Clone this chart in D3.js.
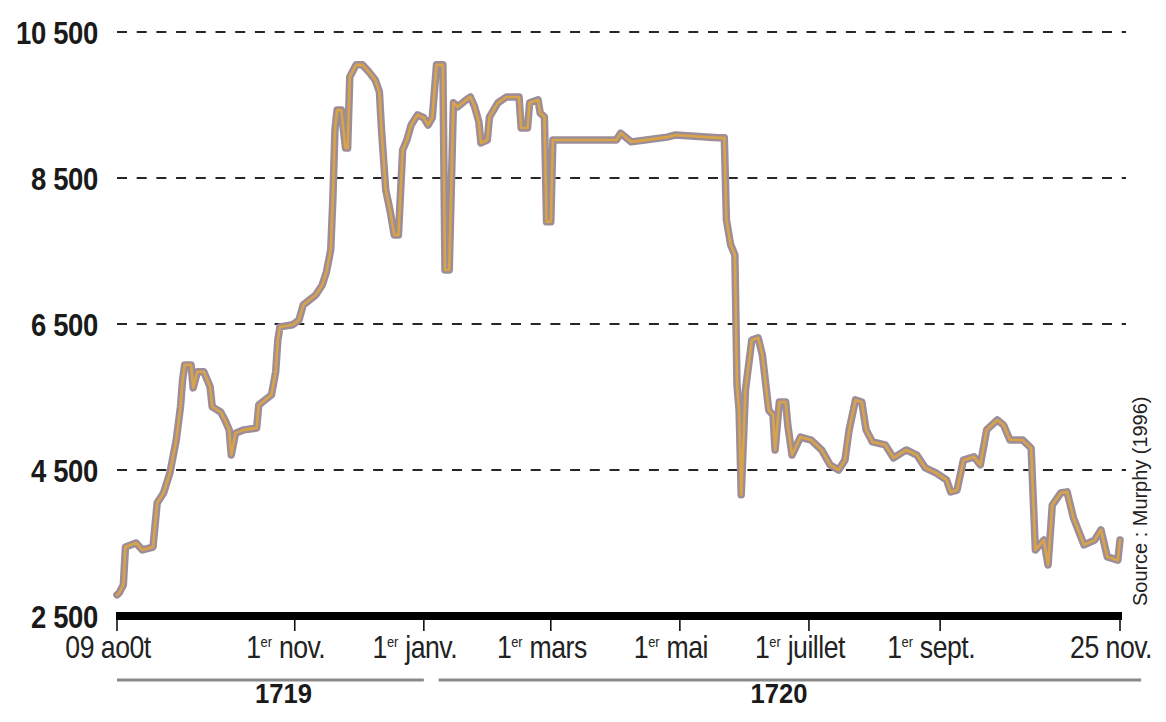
<!DOCTYPE html>
<html>
<head>
<meta charset="utf-8">
<script src="https://cdn.jsdelivr.net/npm/d3@7"></script>
<style>
  html, body { margin: 0; padding: 0; background: #fff; }
  svg { display: block; }
  text { font-family: "Liberation Sans", Arial, "Helvetica", sans-serif; }
</style>
</head>
<body>
<svg id="chart" width="1166" height="722"></svg>
<script>
// ---- Data ----
const dates = [
  "1719-08-09","1719-08-10","1719-08-12","1719-08-13","1719-08-18","1719-08-21","1719-08-26","1719-08-28",
  "1719-08-31","1719-09-03","1719-09-06","1719-09-08","1719-09-09","1719-09-10","1719-09-13","1719-09-14",
  "1719-09-16","1719-09-19","1719-09-22","1719-09-23","1719-09-27","1719-09-29","1719-10-01","1719-10-02",
  "1719-10-04","1719-10-08","1719-10-14","1719-10-15","1719-10-18","1719-10-21","1719-10-23","1719-10-24",
  "1719-10-25","1719-10-31","1719-11-03","1719-11-05","1719-11-11","1719-11-14","1719-11-16","1719-11-18",
  "1719-11-19","1719-11-20","1719-11-21","1719-11-23","1719-11-25","1719-11-26","1719-11-27","1719-11-30",
  "1719-12-03","1719-12-06","1719-12-09","1719-12-11","1719-12-12","1719-12-14","1719-12-16","1719-12-18",
  "1719-12-20","1719-12-22","1719-12-24","1719-12-26","1719-12-29","1720-01-01","1720-01-03","1720-01-05",
  "1720-01-07","1720-01-10","1720-01-11","1720-01-13","1720-01-15","1720-01-17","1720-01-21","1720-01-23",
  "1720-01-25","1720-01-27","1720-01-28","1720-01-31","1720-02-01","1720-02-05","1720-02-09","1720-02-15",
  "1720-02-16","1720-02-19","1720-02-20","1720-02-24","1720-02-25","1720-02-27","1720-02-28","1720-03-01",
  "1720-03-02","1720-04-01","1720-04-03","1720-04-08","1720-04-25","1720-04-29","1720-05-19","1720-05-22",
  "1720-05-23","1720-05-25","1720-05-27","1720-05-28","1720-05-29","1720-05-30","1720-06-01","1720-06-04",
  "1720-06-07","1720-06-09","1720-06-12","1720-06-14","1720-06-15","1720-06-17","1720-06-20","1720-06-21",
  "1720-06-23","1720-06-27","1720-07-02","1720-07-07","1720-07-11","1720-07-15","1720-07-18","1720-07-20",
  "1720-07-23","1720-07-26","1720-07-28","1720-07-31","1720-08-06","1720-08-10","1720-08-16","1720-08-21",
  "1720-08-25","1720-08-30","1720-09-04","1720-09-06","1720-09-09","1720-09-12","1720-09-17","1720-09-20",
  "1720-09-23","1720-09-28","1720-10-01","1720-10-04","1720-10-10","1720-10-14","1720-10-16","1720-10-20",
  "1720-10-22","1720-10-24","1720-10-28","1720-10-31","1720-11-03","1720-11-08","1720-11-13","1720-11-16",
  "1720-11-19","1720-11-24","1720-11-25"
];
const prices = [
  2790,2815,2925,3445,3500,3405,3445,4050,
  4185,4460,4910,5365,5735,5940,5940,5625,
  5845,5845,5640,5365,5295,5185,5050,4705,
  5005,5050,5075,5390,5460,5530,5845,6280,
  6460,6490,6555,6760,6900,7035,7215,7515,
  8200,9160,9430,9430,8910,8910,9885,10050,
  10050,9955,9845,9680,9160,8335,8060,7720,
  7720,8885,9020,9225,9365,9325,9225,9325,
  10050,10050,7240,7240,9530,9475,9570,9610,
  9475,9270,8980,9020,9335,9530,9610,9610,
  9185,9185,9530,9570,9390,9335,7900,7900,
  9020,9020,9115,8995,9060,9090,9050,9050,
  7925,7585,7445,5665,5320,4160,5595,6280,
  6310,6075,5320,5255,4775,5430,5430,5115,
  4705,4950,4910,4775,4570,4500,4635,5050,
  5460,5430,5050,4885,4845,4665,4775,4705,
  4530,4460,4365,4200,4225,4635,4680,4570,
  5050,5185,5115,4910,4910,4800,3405,3540,
  3200,4020,4185,4200,3845,3475,3540,3680,
  3310,3265,3540
];

const yTicks = [2500, 4500, 6500, 8500, 10500];
const yTickLabels = ["2 500", "4 500", "6 500", "8 500", "10 500"];

const xTickDates = ["1719-08-09","1719-11-01","1720-01-01","1720-03-01","1720-05-01","1720-07-01","1720-09-01","1720-11-25"];
const xTickLabels = ["09 ao0t","1er nov.","1er janv.","1er mars","1er mai","1er juillet","1er sept.","25 nov."];

const years = ["1719", "1720"];
const yearStarts = ["1719-08-09", "1720-01-08"];
const yearEnds   = ["1720-01-01", "1720-12-05"];

const sourceText = "Source : Murphy (1996)";

// ---- Chart ----
const parse = d3.utcParse("%Y-%m-%d");
const series = dates.map((d, i) => ({ date: parse(d), value: prices[i] }));
const SX = 0.86; // horizontal condensing of the lettering

const svg = d3.select("#chart");
const x = d3.scaleUtc()
  .domain([parse("1719-08-09"), parse("1720-11-25")])
  .range([117, 1120]);
const y = d3.scaleLinear()
  .domain([2500, 10500])
  .range([616, 32]);

// dashed gridlines
svg.append("g")
  .selectAll("line")
  .data(yTicks.filter(v => v > 2500))
  .join("line")
  .attr("x1", 117).attr("x2", 1126)
  .attr("y1", d => y(d)).attr("y2", d => y(d))
  .attr("stroke", "#262626")
  .attr("stroke-width", 2.2)
  .attr("stroke-dasharray", "10,9.7");

// y labels
svg.append("g")
  .selectAll("text")
  .data(yTicks)
  .join("text")
  .attr("transform", d => `translate(98,${y(d)}) scale(${SX},1)`)
  .attr("dy", "0.36em")
  .attr("text-anchor", "end")
  .attr("font-size", 32)
  .attr("font-weight", "bold")
  .attr("fill", "#1a1a1a")
  .attr("letter-spacing", -0.4)
  .text((d, i) => yTickLabels[i]);

// price line (outline + inner)
const line = d3.line()
  .x(d => x(d.date))
  .y(d => y(d.value))
  .curve(d3.curveLinear);

svg.append("path")
  .datum(series)
  .attr("fill", "none")
  .attr("stroke", "#9d8d99")
  .attr("stroke-width", 7.5)
  .attr("stroke-linejoin", "round")
  .attr("stroke-linecap", "round")
  .attr("d", line);
svg.append("path")
  .datum(series)
  .attr("fill", "none")
  .attr("stroke", "#d8a447")
  .attr("stroke-width", 2.6)
  .attr("stroke-linejoin", "round")
  .attr("stroke-linecap", "round")
  .attr("d", line);

// baseline bar
svg.append("rect")
  .attr("x", x.range()[0] - 1)
  .attr("y", y(2500) - 4)
  .attr("width", x.range()[1] - x.range()[0] + 3)
  .attr("height", 8)
  .attr("fill", "#000");

// x ticks
const xt = svg.append("g");
xt.selectAll("line")
  .data(xTickDates)
  .join("line")
  .attr("x1", d => x(parse(d))).attr("x2", d => x(parse(d)))
  .attr("y1", y(2500) + 4).attr("y2", y(2500) + 15)
  .attr("stroke", "#111").attr("stroke-width", 1.6);

const labels = xt.selectAll("text")
  .data(xTickDates)
  .join("text")
  .attr("transform", d => `translate(${x(parse(d)) - 9},658) scale(${SX},1)`)
  .attr("text-anchor", "middle")
  .attr("font-size", 31)
  .attr("fill", "#222")
  .attr("letter-spacing", -0.6);
labels.each(function(d, i) {
  const t = d3.select(this);
  const lab = xTickLabels[i];
  const m = lab.match(/^(1)(er)(.*)$/);
  if (m) {
    t.append("tspan").text(m[1]);
    t.append("tspan").attr("font-size", 15).attr("letter-spacing", 0).attr("dy", -11).text(m[2]);
    t.append("tspan").attr("dy", 11).text(m[3]);
  } else {
    t.text(lab);
  }
});

// year brackets
const yr = svg.append("g");
yr.selectAll("line")
  .data(years)
  .join("line")
  .attr("x1", (d, i) => x(parse(yearStarts[i])))
  .attr("x2", (d, i) => x(parse(yearEnds[i])))
  .attr("y1", 680).attr("y2", 680)
  .attr("stroke", "#8a8a8a").attr("stroke-width", 3);
yr.selectAll("text")
  .data(years)
  .join("text")
  .attr("transform", (d, i) => `translate(${(x(parse(yearStarts[i])) + x(parse(yearEnds[i]))) / 2 + (i === 0 ? 13 : -11)},703) scale(0.95,1)`)
  .attr("text-anchor", "middle")
  .attr("font-size", 27)
  .attr("font-weight", "bold")
  .attr("fill", "#1a1a1a")
  .text(d => d);

// source
svg.append("text")
  .attr("transform", "translate(1147,606) rotate(-90) scale(0.95,1)")
  .attr("text-anchor", "start")
  .attr("font-size", 21)
  .attr("fill", "#222")
  .text(sourceText);
</script>
</body>
</html>
